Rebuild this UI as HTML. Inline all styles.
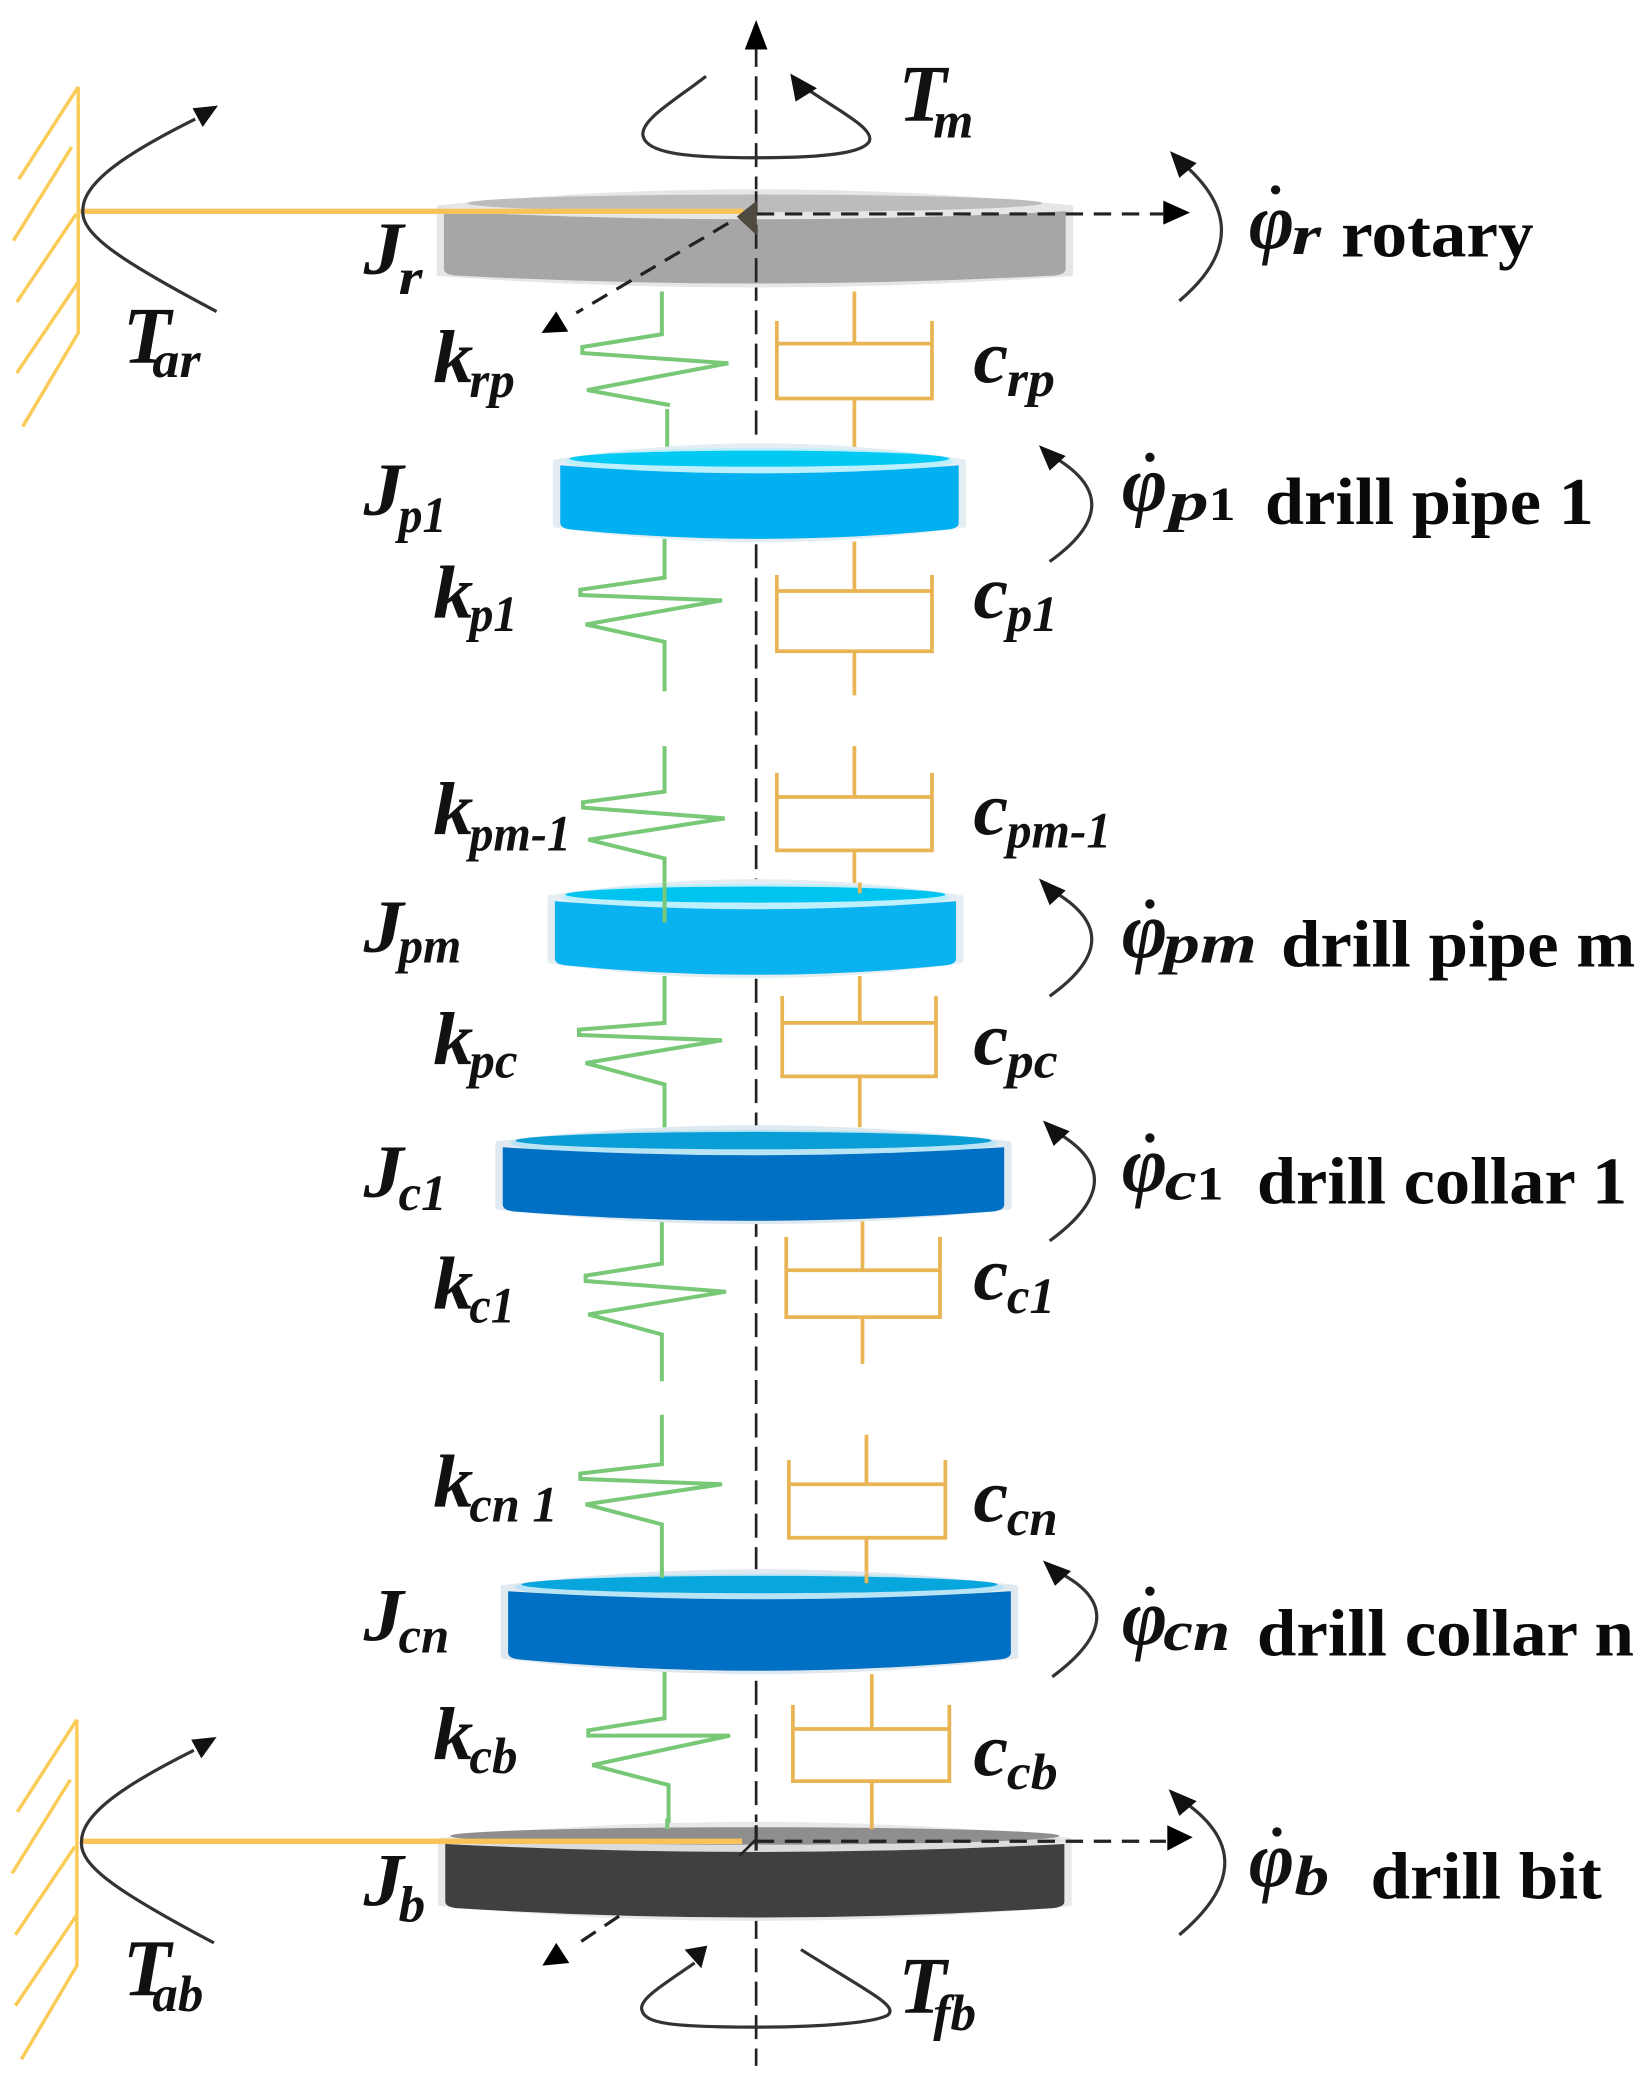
<!DOCTYPE html>
<html><head><meta charset="utf-8"><style>
html,body{margin:0;padding:0;background:#fff}
svg{display:block}
.m{font-family:"Liberation Serif",serif;font-style:italic;font-weight:700;fill:#111}
.s{font-family:"Liberation Serif",serif;font-style:italic;font-weight:400;fill:#111}
.l{font-family:"Liberation Serif",serif;font-weight:700;fill:#0a0a0a}
.g{fill:none;stroke:#78c878;stroke-width:3;stroke-linejoin:miter}
.o{fill:none;stroke:#e9b454;stroke-width:2.8}
.a{fill:none;stroke:#333;stroke-width:2.4}
.w{fill:none;stroke:#fbcb58;stroke-width:2.6}
.d{fill:none;stroke:#222;stroke-width:2.4;stroke-dasharray:13 8}
.x{fill:none;stroke:#222;stroke-width:2;stroke-dasharray:18 7}
</style></head><body>
<svg xmlns="http://www.w3.org/2000/svg" width="1650" height="2098" viewBox="0 0 1234 1569" preserveAspectRatio="none">
<rect width="1234" height="1569" fill="#fff"/>

<!-- axis (beneath disks) -->
<line x1="565.5" y1="32" x2="565.5" y2="1545" class="x"/>
<polygon points="565.5,15 557,37 574,37" fill="#000"/>

<!-- springs -->
<path class="g" d="M495 218V250L435.5 259.5V264L544.7 271.7L439 291.7L501 303M499 306V336"/>
<path class="g" d="M497 403V432L434 441V445L540 449L438 467L497 480V517"/>
<path class="g" d="M497 558V592L436 600V604L542 612L440 628L497 642V685"/>
<path class="g" d="M497 730V765L433 770V774L540 778L438 795L497 811V845"/>
<path class="g" d="M495 912V945L438 954V958L543 966L440 983L495 998V1033"/>
<path class="g" d="M495 1058V1095L434 1102V1106L540 1110L438 1125L495 1140V1178"/>
<path class="g" d="M497 1248V1285L440 1294V1298L546 1298L443 1320L500 1335V1368"/>

<!-- dampers -->
<path class="o" d="M639 218V257M581 240V298H697V240M581 257H697M639 298V335"/>
<path class="o" d="M639 405V442M581 430V487H697V430M581 442H697M639 487V520"/>
<path class="o" d="M639 558V596M581 578V636H697V578M581 596H697M639 636V668"/>
<path class="o" d="M643 730V765M585 745V805H700V745M585 765H700M643 805V843"/>
<path class="o" d="M645 908V950M588 925V985H703V925M588 950H703M645 985V1020"/>
<path class="o" d="M648 1073V1110M590 1092V1150H707V1092M590 1110H707M648 1150V1182"/>
<path class="o" d="M652 1252V1293M593 1275V1332H710V1275M593 1293H710M652 1332V1368"/>

<!-- Jr -->
<path d="M328 155Q564.5 131 801 155V205Q564.5 222 328 205Z" fill="#e6e6e6" stroke="#e6e6e6" stroke-width="3" stroke-linejoin="round"/>
<path d="M332 158Q564.5 170 797 158V201Q797 205 789 206Q564.5 218 340 206Q332 205 332 201Z" fill="#a6a6a6"/>
<ellipse cx="564.5" cy="152" rx="215" ry="6.5" fill="#bcbcbc"/>

<!-- Jp1 -->
<path d="M415 345Q568 321 721 345V393Q568 415 415 393Z" fill="#e3edf2" stroke="#e3edf2" stroke-width="3" stroke-linejoin="round"/>
<ellipse cx="568" cy="345" rx="145" ry="10" fill="#bdeffc"/>
<path d="M419 348Q568 360 717 348V391Q717 395 709 396Q568 410 427 396Q419 395 419 391Z" fill="#00b0f0"/>
<ellipse cx="568" cy="343" rx="142" ry="6" fill="#00c9f4"/>

<!-- Jpm -->
<path d="M411 671Q565 647 719 671V719Q565 741 411 719Z" fill="#e3edf2" stroke="#e3edf2" stroke-width="3" stroke-linejoin="round"/>
<ellipse cx="565" cy="671" rx="145" ry="10" fill="#bdeffc"/>
<path d="M415 674Q565 686 715 674V717Q715 721 707 722Q565 736 423 722Q415 721 415 717Z" fill="#0ab2f0"/>
<ellipse cx="565" cy="669" rx="142" ry="6" fill="#00c4f0"/>
<path class="g" d="M497 660V690"/><path class="o" d="M643 660V668"/>

<!-- Jc1 -->
<path d="M372 855Q563.5 831 755 855V903Q563.5 925 372 903Z" fill="#e0e8f0" stroke="#e0e8f0" stroke-width="3" stroke-linejoin="round"/>
<ellipse cx="563.5" cy="855" rx="182" ry="10" fill="#b8e4f6"/>
<path d="M376 858Q563.5 870 751 858V901Q751 905 743 906Q563.5 920 384 906Q376 905 376 901Z" fill="#0070c4"/>
<ellipse cx="563.5" cy="853" rx="178" ry="6.5" fill="#0a9ed6"/>

<!-- Jcn -->
<path d="M376 1187Q568 1163 760 1187V1239Q568 1262 376 1239Z" fill="#e0e8f0" stroke="#e0e8f0" stroke-width="3" stroke-linejoin="round"/>
<ellipse cx="568" cy="1187" rx="183" ry="10" fill="#b8e4f6"/>
<path d="M380 1190Q568 1202 756 1190V1236Q756 1240 748 1241Q568 1258 388 1241Q380 1240 380 1236Z" fill="#0070c4"/>
<ellipse cx="568" cy="1185" rx="178" ry="6.5" fill="#07a6dc"/>
<path class="o" d="M648 1176V1184"/><path class="g" d="M495 1172V1180"/>

<!-- Jb -->
<path d="M329 1376Q564.5 1352 800 1376V1424Q564.5 1446 329 1424Z" fill="#e8e8e8" stroke="#e8e8e8" stroke-width="3" stroke-linejoin="round"/>
<ellipse cx="564.5" cy="1376" rx="228" ry="9.5" fill="#dcdcdc"/>
<path d="M333 1379Q564.5 1391 796 1379V1422Q796 1426 788 1427Q564.5 1441 341 1427Q333 1426 333 1422Z" fill="#404040"/>
<ellipse cx="564.5" cy="1373" rx="228" ry="6.5" fill="#8e8e8e"/>
<path class="g" d="M499 1360V1368"/><path class="o" d="M652 1360V1368"/>

<!-- axis overlays on disks -->
<line x1="565.5" y1="143" x2="565.5" y2="212" class="x"/>
<line x1="565.5" y1="1365" x2="565.5" y2="1384" stroke="#222" stroke-width="2.4"/>
<path d="M565 1376L553 1388" stroke="#222" stroke-width="2" fill="none"/>

<!-- walls -->
<path class="w" d="M58.5 65V249L17 319M58.5 65L14 134M53.6 110L10 180M57 160L12.5 226M58.5 211L12.5 279"/>
<path class="w" d="M57.5 1286V1470L16 1540M57.5 1286L13 1355M52.6 1331L9 1401M56 1381L11.5 1447M57.5 1432L11.5 1500"/>
<path d="M60 158H556" stroke="#f6c45a" stroke-width="4" fill="none"/>
<path d="M60 1377H555" stroke="#f6c45a" stroke-width="4" fill="none"/>

<!-- dashed -->
<path class="d" d="M566 160H870"/>
<polygon points="890,159 870,150 870,168" fill="#000"/>
<polygon points="551,162 566,150 566,176" fill="#4e4a40"/>
<path class="d" d="M544.6 167L431 234"/>
<polygon points="416,233 405,249 425,248" fill="#000"/>
<path class="d" d="M566 1377H872"/>
<polygon points="892,1374 873,1365 873,1384" fill="#000"/>
<path class="d" d="M463 1433L430 1455"/>
<polygon points="416,1453 405.6,1470 425.8,1468" fill="#000"/>

<!-- moment curves -->
<path class="a" d="M162 233C90 195 60 175 62 157C62 135 100 112 146 89"/><polygon points="144,81 163,79 151.6,95" fill="#111"/>
<path class="a" d="M160 1453C88 1415 59 1395 61 1377C61 1355 99 1332 145 1309"/><polygon points="143,1301 162,1299 150.6,1315" fill="#111"/>
<path class="a" d="M528 57C505 75 478 90 481 102C484 114 510 118 565 118C620 118 645 114 650 106C655 96 625 82 600 64"/><polygon points="591,55 595,76 611,66" fill="#111"/>
<path class="a" d="M519.5 1468C495 1485 478 1495 480 1503C482 1513 500 1516 565 1516C620 1516 655 1512 664 1507C672 1500 650 1490 599 1458"/><polygon points="512,1458 529,1455 524.5,1472" fill="#111"/>

<path class="a" d="M882 225Q945 172 882 120"/><polygon points="875,113 882,133 895,122" fill="#111"/>
<path class="a" d="M785 420Q848 375 785 340"/><polygon points="777,333 785,352 797,341" fill="#111"/>
<path class="a" d="M785 745Q848 700 785 665"/><polygon points="777,657 785,677 797,666" fill="#111"/>
<path class="a" d="M785 928Q851 880 787 845"/><polygon points="780,838 788,857 800,846" fill="#111"/>
<path class="a" d="M787 1254Q853 1205 788 1174"/><polygon points="780,1167 789,1186 801,1175" fill="#111"/>
<path class="a" d="M882 1447Q950 1390 882 1345"/><polygon points="874,1338 882,1358 895,1347" fill="#111"/>

<!-- J labels -->
<text class="m" x="272" y="205" font-size="56" textLength="30" lengthAdjust="spacingAndGlyphs">J</text><text class="m" x="298" y="220" font-size="38" textLength="18" lengthAdjust="spacingAndGlyphs">r</text>
<text class="m" x="272" y="385" font-size="56" textLength="30" lengthAdjust="spacingAndGlyphs">J</text><text class="m" x="298" y="398" font-size="38" textLength="36" lengthAdjust="spacingAndGlyphs">p1</text>
<text class="m" x="272" y="712" font-size="56" textLength="30" lengthAdjust="spacingAndGlyphs">J</text><text class="m" x="298" y="720" font-size="38" textLength="47" lengthAdjust="spacingAndGlyphs">pm</text>
<text class="m" x="272" y="895" font-size="56" textLength="30" lengthAdjust="spacingAndGlyphs">J</text><text class="m" x="298" y="905" font-size="38" textLength="36" lengthAdjust="spacingAndGlyphs">c1</text>
<text class="m" x="272" y="1227" font-size="56" textLength="30" lengthAdjust="spacingAndGlyphs">J</text><text class="m" x="298" y="1236" font-size="38" textLength="38" lengthAdjust="spacingAndGlyphs">cn</text>
<text class="m" x="272" y="1425" font-size="56" textLength="30" lengthAdjust="spacingAndGlyphs">J</text><text class="m" x="298" y="1437" font-size="38" textLength="20" lengthAdjust="spacingAndGlyphs">b</text>

<!-- k labels -->
<text class="m" x="324" y="286" font-size="56" textLength="30" lengthAdjust="spacingAndGlyphs">k</text><text class="m" x="351" y="297" font-size="38" textLength="34" lengthAdjust="spacingAndGlyphs">rp</text>
<text class="m" x="324" y="462" font-size="56" textLength="30" lengthAdjust="spacingAndGlyphs">k</text><text class="m" x="351" y="472" font-size="38" textLength="36" lengthAdjust="spacingAndGlyphs">p1</text>
<text class="m" x="324" y="624" font-size="56" textLength="30" lengthAdjust="spacingAndGlyphs">k</text><text class="m" x="351" y="636" font-size="38" textLength="76" lengthAdjust="spacingAndGlyphs">pm-1</text>
<text class="m" x="324" y="796" font-size="56" textLength="30" lengthAdjust="spacingAndGlyphs">k</text><text class="m" x="351" y="806" font-size="38" textLength="36" lengthAdjust="spacingAndGlyphs">pc</text>
<text class="m" x="324" y="979" font-size="56" textLength="30" lengthAdjust="spacingAndGlyphs">k</text><text class="m" x="351" y="989" font-size="38" textLength="34" lengthAdjust="spacingAndGlyphs">c1</text>
<text class="m" x="324" y="1127" font-size="56" textLength="30" lengthAdjust="spacingAndGlyphs">k</text><text class="m" x="351" y="1138" font-size="38" textLength="66" lengthAdjust="spacingAndGlyphs">cn 1</text>
<text class="m" x="324" y="1316" font-size="56" textLength="30" lengthAdjust="spacingAndGlyphs">k</text><text class="m" x="351" y="1326" font-size="38" textLength="36" lengthAdjust="spacingAndGlyphs">cb</text>

<!-- c labels -->
<text class="m" x="728" y="286" font-size="56" textLength="26" lengthAdjust="spacingAndGlyphs">c</text><text class="m" x="753" y="296" font-size="38" textLength="36" lengthAdjust="spacingAndGlyphs">rp</text>
<text class="m" x="728" y="462" font-size="56" textLength="26" lengthAdjust="spacingAndGlyphs">c</text><text class="m" x="753" y="472" font-size="38" textLength="38" lengthAdjust="spacingAndGlyphs">p1</text>
<text class="m" x="728" y="624" font-size="56" textLength="26" lengthAdjust="spacingAndGlyphs">c</text><text class="m" x="753" y="634" font-size="38" textLength="78" lengthAdjust="spacingAndGlyphs">pm-1</text>
<text class="m" x="728" y="796" font-size="56" textLength="26" lengthAdjust="spacingAndGlyphs">c</text><text class="m" x="753" y="806" font-size="38" textLength="38" lengthAdjust="spacingAndGlyphs">pc</text>
<text class="m" x="728" y="972" font-size="56" textLength="26" lengthAdjust="spacingAndGlyphs">c</text><text class="m" x="753" y="982" font-size="38" textLength="36" lengthAdjust="spacingAndGlyphs">c1</text>
<text class="m" x="728" y="1138" font-size="56" textLength="26" lengthAdjust="spacingAndGlyphs">c</text><text class="m" x="753" y="1148" font-size="38" textLength="38" lengthAdjust="spacingAndGlyphs">cn</text>
<text class="m" x="728" y="1328" font-size="56" textLength="26" lengthAdjust="spacingAndGlyphs">c</text><text class="m" x="753" y="1338" font-size="38" textLength="38" lengthAdjust="spacingAndGlyphs">cb</text>

<!-- T labels -->
<text class="m" x="672" y="90" font-size="60" textLength="36" lengthAdjust="spacingAndGlyphs">T</text><text class="m" x="698" y="103" font-size="38" textLength="30" lengthAdjust="spacingAndGlyphs">m</text>
<text class="m" x="92" y="271" font-size="60" textLength="36" lengthAdjust="spacingAndGlyphs">T</text><text class="m" x="114" y="282" font-size="38" textLength="36" lengthAdjust="spacingAndGlyphs">ar</text>
<text class="m" x="92" y="1492" font-size="60" textLength="36" lengthAdjust="spacingAndGlyphs">T</text><text class="m" x="114" y="1504" font-size="38" textLength="38" lengthAdjust="spacingAndGlyphs">ab</text>
<text class="m" x="672" y="1505" font-size="60" textLength="36" lengthAdjust="spacingAndGlyphs">T</text><text class="m" x="698" y="1518" font-size="38" textLength="32" lengthAdjust="spacingAndGlyphs">fb</text>

<!-- phi labels -->
<text class="m" x="934" y="186" font-size="60" textLength="34" lengthAdjust="spacingAndGlyphs">φ</text><circle cx="954" cy="142" r="3.5" fill="#111"/><text class="m" x="966" y="190" font-size="42" textLength="22" lengthAdjust="spacingAndGlyphs">r</text>
<text class="l" x="1003" y="192" font-size="50" textLength="144" lengthAdjust="spacingAndGlyphs">rotary</text>
<text class="m" x="839" y="382" font-size="60" textLength="34" lengthAdjust="spacingAndGlyphs">φ</text><circle cx="860" cy="342" r="3.5" fill="#111"/><text class="m" x="874" y="389" font-size="42" textLength="30" lengthAdjust="spacingAndGlyphs">p</text><text class="l" x="904" y="389" font-size="36" textLength="20" lengthAdjust="spacingAndGlyphs">1</text>
<text class="l" x="946" y="392" font-size="50" textLength="246" lengthAdjust="spacingAndGlyphs">drill pipe 1</text>
<text class="m" x="839" y="716" font-size="60" textLength="34" lengthAdjust="spacingAndGlyphs">φ</text><circle cx="860" cy="676" r="3.5" fill="#111"/><text class="m" x="870" y="720" font-size="42" textLength="70" lengthAdjust="spacingAndGlyphs">pm</text>
<text class="l" x="958" y="723" font-size="50" textLength="265" lengthAdjust="spacingAndGlyphs">drill pipe m</text>
<text class="m" x="839" y="891" font-size="60" textLength="34" lengthAdjust="spacingAndGlyphs">φ</text><circle cx="860" cy="851" r="3.5" fill="#111"/><text class="m" x="871" y="897" font-size="42" textLength="24" lengthAdjust="spacingAndGlyphs">c</text><text class="l" x="895" y="897" font-size="36" textLength="20" lengthAdjust="spacingAndGlyphs">1</text>
<text class="l" x="940" y="900" font-size="50" textLength="277" lengthAdjust="spacingAndGlyphs">drill collar 1</text>
<text class="m" x="839" y="1230" font-size="60" textLength="34" lengthAdjust="spacingAndGlyphs">φ</text><circle cx="860" cy="1190" r="3.5" fill="#111"/><text class="m" x="870" y="1234" font-size="42" textLength="50" lengthAdjust="spacingAndGlyphs">cn</text>
<text class="l" x="940" y="1238" font-size="50" textLength="282" lengthAdjust="spacingAndGlyphs">drill collar n</text>
<text class="m" x="934" y="1411" font-size="60" textLength="34" lengthAdjust="spacingAndGlyphs">φ</text><circle cx="955" cy="1370" r="3.5" fill="#111"/><text class="m" x="968" y="1417" font-size="42" textLength="26" lengthAdjust="spacingAndGlyphs">b</text>
<text class="l" x="1025" y="1420" font-size="50" textLength="173" lengthAdjust="spacingAndGlyphs">drill bit</text>
</svg>
</body></html>
